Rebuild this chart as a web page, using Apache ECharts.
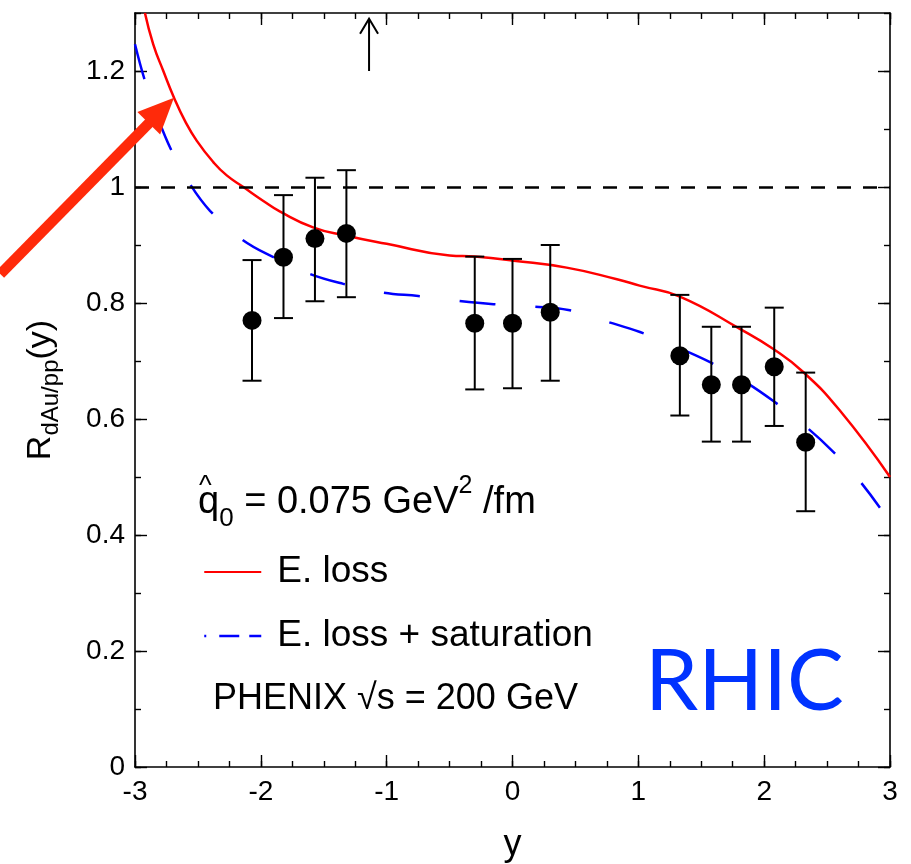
<!DOCTYPE html>
<html>
<head>
<meta charset="utf-8">
<script src="https://cdn.jsdelivr.net/npm/echarts@6/dist/echarts.min.js"></script>
<style>
html,body{margin:0;padding:0;background:#fff;}
#c{width:911px;height:864px;}
</style>
</head>
<body>
<div id="c"></div>
<script>
// ---- data ----
const xTickLabels = [-3, -2, -1, 0, 1, 2, 3];
const yTickLabels = [0, 0.2, 0.4, 0.6, 0.8, 1, 1.2];

const elossX = [-2.921, -2.855, -2.775, -2.69, -2.603, -2.51, -2.378, -2.271, -2.139, -1.98, -1.85, -1.58, -1.32, -1.0, -0.50, -0.30, 0.01, 0.43, 0.83, 1.01, 1.33, 1.81, 2.07, 2.31, 2.60, 3.0];
const elossY = [1.300, 1.246, 1.200, 1.154, 1.114, 1.080, 1.043, 1.020, 1.000, 0.976, 0.958, 0.930, 0.916, 0.902, 0.882, 0.880, 0.873, 0.861, 0.841, 0.830, 0.811, 0.755, 0.721, 0.681, 0.615, 0.500];

const satX = [-3.0, -2.921, -2.815, -2.708, -2.563, -2.404, -2.152, -1.90, -1.609, -1.345, -1.027, -0.749, -0.443, -0.152, 0.165, 0.444, 0.749, 1.013, 1.305, 1.57, 1.835, 2.073, 2.325, 2.537, 2.748, 2.92];
const satY = [1.246, 1.183, 1.117, 1.062, 1.005, 0.959, 0.910, 0.879, 0.850, 0.833, 0.818, 0.812, 0.804, 0.798, 0.794, 0.788, 0.768, 0.750, 0.724, 0.698, 0.666, 0.631, 0.588, 0.546, 0.496, 0.447];

const phenixX  = [-2.07, -1.82, -1.57, -1.32, -0.30, 0.00, 0.30, 1.33, 1.58, 1.82, 2.08, 2.33];
const phenixY  = [0.770, 0.879, 0.911, 0.920, 0.765, 0.765, 0.784, 0.709, 0.659, 0.659, 0.690, 0.560];
const phenixHi = [0.874, 0.986, 1.016, 1.029, 0.880, 0.876, 0.900, 0.814, 0.759, 0.759, 0.792, 0.680];
const phenixLo = [0.666, 0.774, 0.803, 0.810, 0.651, 0.653, 0.666, 0.606, 0.561, 0.561, 0.588, 0.441];

const unityLevel = 1;
const upArrow = [-1.14, 1.20, 1.29];              // x, y from, y to
const pointerArrow = [[-4.07, 0.85], [-2.69, 1.154]]; // tail, tip (data coords)

// ---- chart ----
const FONT = '"Liberation Sans", Arial, Helvetica, sans-serif';
const chart = echarts.init(document.getElementById('c'), null, {renderer: 'canvas'});

const zip = (xs, ys) => xs.map((x, i) => [x, ys[i]]);
const grid = {left: 135, right: 21, top: 13, bottom: 97, outerBoundsMode: 'none', containLabel: false};

function xAx(pos, major, withLabels) {
  const a = {
    type: 'value', position: pos, min: -3, max: 3,
    axisLine: {show: major, onZero: false, lineStyle: {color: '#000', width: 1.6}},
    axisTick: {show: true, inside: true, length: major ? 12 : 6, lineStyle: {color: '#000', width: 1.4}},
    splitLine: {show: false},
    axisLabel: {show: false}
  };
  if (major) {
    a.axisTick.customValues = xTickLabels;
    if (withLabels) {
      a.axisLabel = {show: true, customValues: xTickLabels, margin: 11, color: '#000', fontSize: 28, fontFamily: FONT};
      a.name = 'y';
      a.nameLocation = 'middle';
      a.nameGap = 60;
      a.nameTextStyle = {fontSize: 36, fontFamily: FONT, color: '#000'};
    }
  } else {
    a.interval = 0.25;
  }
  return a;
}
function yAx(pos, major, withLabels) {
  const a = {
    type: 'value', position: pos, min: 0, max: 1.3,
    axisLine: {show: major, onZero: false, lineStyle: {color: '#000', width: 1.6}},
    axisTick: {show: true, inside: true, length: major ? 12 : 6, lineStyle: {color: '#000', width: 1.4}},
    splitLine: {show: false},
    axisLabel: {show: false}
  };
  if (major) {
    a.axisTick.customValues = yTickLabels;
    if (withLabels) {
      a.axisLabel = {show: true, customValues: yTickLabels, margin: 10, color: '#000', fontSize: 28, fontFamily: FONT};
      a.name = '{m|R}{s|dAu/pp}{m|(y)}';
      a.nameLocation = 'middle';
      a.nameRotate = 90;
      a.nameGap = 72;
      a.nameTextStyle = {
        color: '#000',
        rich: {
          m: {fontSize: 34, fontFamily: FONT, lineHeight: 44, verticalAlign: 'middle'},
          s: {fontSize: 24, fontFamily: FONT, lineHeight: 24, verticalAlign: 'bottom'}
        }
      };
    }
  } else {
    a.interval = 0.1;
  }
  return a;
}

const option = {
  backgroundColor: '#fff',
  animation: false,
  grid: grid,
  xAxis: [xAx('bottom', true, true), xAx('bottom', false), xAx('top', true, false), xAx('top', false)],
  yAxis: [yAx('left', true, true), yAx('left', false), yAx('right', true, false), yAx('right', false)],
  legend: {
    orient: 'vertical', left: 198, top: 547,
    itemWidth: 57, itemHeight: 14, itemGap: 24,
    textStyle: {fontSize: 37, fontFamily: FONT, color: '#000', lineHeight: 40, padding: [0, 0, 0, 11]},
    itemStyle: {opacity: 0},
    selectedMode: false,
    data: [
      {name: 'E. loss'},
      {name: 'E. loss + saturation', lineStyle: {type: [2, 13, 20, 10, 20, 10], width: 2.5}}
    ]
  },
  series: [
    {
      name: 'E. loss', type: 'line', data: zip(elossX, elossY), smooth: 0.5,
      symbol: 'none', clip: true,
      lineStyle: {color: '#ff0000', width: 2.5}, itemStyle: {color: '#ff0000'}, z: 3,
      markLine: {
        silent: true, symbol: 'none', label: {show: false},
        lineStyle: {color: '#000', type: [14, 12], width: 2.6},
        data: [{yAxis: unityLevel}]
      }
    },
    {
      name: 'E. loss + saturation', type: 'line', data: zip(satX, satY), smooth: 0.4,
      symbol: 'none', clip: true,
      lineStyle: {color: '#0000ff', width: 2.5, type: [36, 40]}, itemStyle: {color: '#0000ff'}, z: 3
    },
    {
      name: 'errors', type: 'custom', z: 4,
      data: phenixX.map((x, i) => [x, phenixLo[i], phenixHi[i]]),
      renderItem: function (params, api) {
        const lo = api.coord([api.value(0), api.value(1)]);
        const hi = api.coord([api.value(0), api.value(2)]);
        const w = 9.5;
        const st = {stroke: '#000', lineWidth: 2};
        return {
          type: 'group', children: [
            {type: 'line', shape: {x1: lo[0], y1: lo[1], x2: hi[0], y2: hi[1]}, style: st},
            {type: 'line', shape: {x1: lo[0] - w, y1: lo[1], x2: lo[0] + w, y2: lo[1]}, style: st},
            {type: 'line', shape: {x1: hi[0] - w, y1: hi[1], x2: hi[0] + w, y2: hi[1]}, style: st}
          ]
        };
      }
    },
    {
      name: 'PHENIX', type: 'scatter', z: 5, data: zip(phenixX, phenixY),
      symbol: 'circle', symbolSize: 19, itemStyle: {color: '#000', opacity: 1}
    },
    {
      name: 'upArrow', type: 'custom', z: 5, data: [upArrow],
      renderItem: function (params, api) {
        const a = api.coord([api.value(0), api.value(1)]);
        const b = api.coord([api.value(0), api.value(2)]);
        const st = {stroke: '#000', lineWidth: 2, fill: 'none'};
        return {
          type: 'group', children: [
            {type: 'line', shape: {x1: a[0], y1: a[1], x2: b[0], y2: b[1]}, style: st},
            {type: 'polyline', shape: {points: [[b[0] - 9, b[1] + 15], [b[0], b[1]], [b[0] + 9, b[1] + 15]]}, style: st}
          ]
        };
      }
    },
    {
      name: 'pointer', type: 'custom', z: 10, clip: false,
      data: [[pointerArrow[0][0], pointerArrow[0][1], pointerArrow[1][0], pointerArrow[1][1]]],
      renderItem: function (params, api) {
        const t = api.coord([api.value(0), api.value(1)]);
        const h = api.coord([api.value(2), api.value(3)]);
        const dx = h[0] - t[0], dy = h[1] - t[1];
        const L = Math.sqrt(dx * dx + dy * dy);
        const ux = dx / L, uy = dy / L, nx = -uy, ny = ux;
        const hl = 36, hw = 16;
        const bx = h[0] - ux * hl, by = h[1] - uy * hl;
        const col = '#ff2a0a';
        return {
          type: 'group', children: [
            {type: 'line', shape: {x1: t[0], y1: t[1], x2: bx + ux * 4, y2: by + uy * 4}, style: {stroke: col, lineWidth: 10.5}},
            {type: 'polygon', shape: {points: [[h[0], h[1]], [bx + nx * hw, by + ny * hw], [bx - nx * hw, by - ny * hw]]}, style: {fill: col}}
          ]
        };
      }
    }
  ],
  graphic: [
    {
      type: 'text', x: 198, y: 503, z: 20,
      style: {
        text: '{q|q}{s|0}{m| = 0.075 GeV}{p|2}{m| /fm}',
        verticalAlign: 'middle', fill: '#000',
        rich: {
          q: {fontSize: 38, fontFamily: FONT, lineHeight: 58, verticalAlign: 'middle'},
          m: {fontSize: 38, fontFamily: FONT, lineHeight: 58, verticalAlign: 'middle'},
          s: {fontSize: 26, fontFamily: FONT, lineHeight: 26, verticalAlign: 'bottom'},
          p: {fontSize: 25, fontFamily: FONT, lineHeight: 30, verticalAlign: 'top'}
        }
      }
    },
    {
      type: 'text', x: 199, y: 473, z: 20,
      style: {text: '^', fontSize: 27, fontFamily: FONT, fill: '#000'}
    },
    {
      type: 'text', x: 213, y: 699, z: 20,
      style: {text: 'PHENIX \u221As = 200 GeV', fontSize: 36, fontFamily: FONT, fill: '#000', verticalAlign: 'middle'}
    },
    {
      type: 'text', x: 645, y: 683, z: 20,
      style: {text: 'RHIC', fontSize: 85, fontFamily: 'Lato, "Open Sans", sans-serif', fill: '#0033ff', verticalAlign: 'middle'}
    }
  ]
};
chart.setOption(option);
</script>
</body>
</html>
